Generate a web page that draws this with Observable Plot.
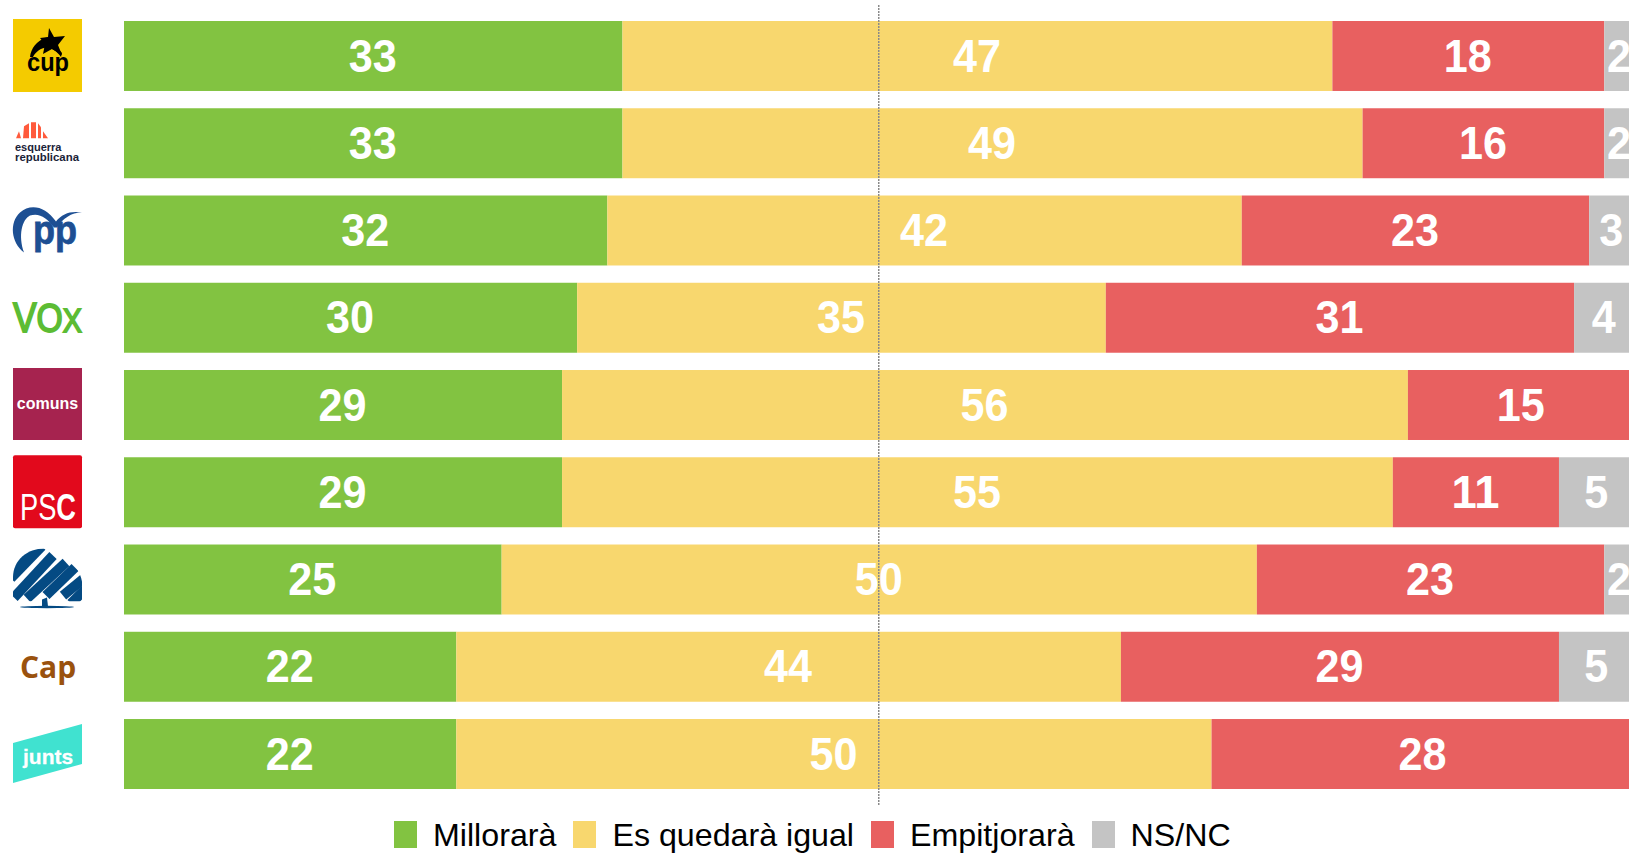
<!DOCTYPE html>
<html>
<head>
<meta charset="utf-8">
<script src="https://cdn.jsdelivr.net/npm/d3@7"></script>
<script src="https://cdn.jsdelivr.net/npm/@observablehq/plot@0.6"></script>
<style>
html,body{margin:0;padding:0;background:#fff;overflow:hidden;}
#chart svg{display:block;max-width:none;}
#legend{display:flex;align-items:flex-start;height:41px;padding-left:394px;padding-top:9px;box-sizing:border-box;font-family:"Liberation Sans",Arial,sans-serif;font-size:32.2px;line-height:28px;color:#000;gap:17px;white-space:nowrap;}
#legend .item{display:flex;align-items:flex-start;gap:16px;}
#legend .sw{display:block;width:23px;height:27px;}
</style>
</head>
<body>
<div id="chart"></div>
<div id="legend"></div>
<script>
const parties = ["CUP","ERC","PP","Vox","Comuns","PSC","Aliança","Cap","Junts"];
const responses = ["Millorarà","Es quedarà igual","Empitjorarà","NS/NC"];
const colors = ["#82c341","#f8d76e","#e86060","#c4c4c4"];
const millorara   = [33,33,32,30,29,29,25,22,22];
const igual       = [47,49,42,35,56,55,50,44,50];
const empitjorara = [18,16,23,31,15,11,23,29,28];
const nsnc        = [ 2, 2, 3, 4, 0, 5, 2, 5, 0];
const guide = [50];

const series = [millorara,igual,empitjorara,nsnc];
const tidy = parties.flatMap((party,i)=>responses.map((response,j)=>({party,response,value:series[j][i]}))).filter(d=>d.value>0);

const NS="http://www.w3.org/2000/svg";
const F="Liberation Sans, Arial, sans-serif";
function el(parent,tag,attrs,txt){const e=document.createElementNS(NS,tag);for(const k in attrs)e.setAttribute(k,attrs[k]);if(txt!=null)e.textContent=txt;parent.appendChild(e);return e;}
function txt(g,s,a){return el(g,"text",Object.assign({"font-family":F,"text-anchor":"start"},a),s);}

const drawLogo = {
  CUP(g){
    el(g,"rect",{x:0,y:-37,width:69,height:73,fill:"#f4cb00"});
    el(g,"path",{d:"M17,1 C18,-8 24,-15 32,-18 L37,-19 L43,-10 L49,-3 L48,1 C43,-6 37,-9 31,-8 C26,-7 22,-3 20,1 Z",fill:"#000"});
    el(g,"path",{d:"M36,-28 L41,-19 L52,-20 L45,-11 L49,-1 L39,-7 L30,-2 L32,-12 L27,-18 L35,-19 Z",fill:"#000"});
    txt(g,"cup",{x:14,y:15,"font-size":26,"font-weight":"bold",fill:"#000",textLength:42,lengthAdjust:"spacingAndGlyphs"});
  },
  ERC(g){
    [[3,-5,6,-12,8,-5],[10,-5,11,-17,16,-20,16,-5],[18,-5,18,-21,23,-21,23,-5],[25,-5,25,-20,28,-16,28,-5],[30,-5,30,-12,35,-5]].forEach(p=>{
      const pts=[];for(let i=0;i<p.length;i+=2)pts.push(p[i]+","+p[i+1]);
      el(g,"polygon",{points:pts.join(" "),fill:"#ff5a3c"});
    });
    txt(g,"esquerra",{x:2,y:7.5,"font-size":11,"font-weight":"bold",fill:"#1a2238"});
    txt(g,"republicana",{x:2,y:18,"font-size":11,"font-weight":"bold",fill:"#1a2238",textLength:64,lengthAdjust:"spacingAndGlyphs"});
  },
  PP(g){
    el(g,"path",{d:"M11,22 C-2,12 -4,-8 7,-18 C17,-27 32,-25 43,-9 C49,-17 58,-20 69,-18 C58,-18 50,-12 44,-3 L41,-3 C34,-13 26,-18 17,-15 C9,-11 5,5 11,22 Z",fill:"#1d4f93"});
    txt(g,"pp",{x:20,y:14,"font-size":40,"font-weight":"bold",fill:"#1d4f93",stroke:"#1d4f93","stroke-width":0.8,textLength:44,lengthAdjust:"spacingAndGlyphs"});
  },
  Vox(g){
    const t=txt(g,"",{x:0,y:14,fill:"#5cbc34",stroke:"#5cbc34","stroke-width":1.8,textLength:69,lengthAdjust:"spacingAndGlyphs"});
    el(t,"tspan",{"font-size":42},"V");
    el(t,"tspan",{"font-size":40},"O");
    el(t,"tspan",{"font-size":34},"X");
  },
  Comuns(g){
    el(g,"rect",{x:0,y:-37,width:69,height:72,fill:"#a6234f"});
    txt(g,"comuns",{x:34.5,y:4,"font-size":16,"font-weight":"bold",fill:"#fff","text-anchor":"middle"});
  },
  PSC(g){
    el(g,"rect",{x:0,y:-37,width:69,height:73,rx:2,fill:"#e2091c"});
    const t=txt(g,"",{x:7,y:28,"font-size":36,fill:"#fff",textLength:56,lengthAdjust:"spacingAndGlyphs"});
    el(t,"tspan",{},"PS");
    el(t,"tspan",{"font-weight":"bold"},"C");
  },
  "Aliança"(g){
    const c="#044a83";
    const cl=el(g,"clipPath",{id:"dome"});
    el(cl,"path",{d:"M0,-2 C0,-20 15,-31 31,-31 C50,-31 66,-14 69,2 L69,22 L0,22 Z"});
    const s=el(g,"g",{"clip-path":"url(#dome)",stroke:c,fill:"none"});
    [[-4,-3,27,-35,15],[1,18,40,-24,10],[14,19,53,-17,10],[33,16,62,-12,10],[50,16,72,-2,10],[58,24,72,10,10]].forEach(([x1,y1,x2,y2,w])=>el(s,"line",{x1,y1,x2,y2,"stroke-width":w}));
    el(g,"polygon",{points:"29,20 34,18 35,27 29,27",fill:c});
    el(g,"ellipse",{cx:34,cy:27.5,rx:27,ry:1.2,fill:c});
  },
  Cap(g){
    txt(g,"Cap",{x:7,y:11,"font-size":30,"font-weight":"bold","font-family":"Open Sans, sans-serif",fill:"#9a520e"});
  },
  Junts(g){
    el(g,"polygon",{points:"0,-11 69,-30 69,10 0,29",fill:"#40e2d0"});
    txt(g,"junts",{x:10,y:10,"font-size":21,"font-weight":"bold",fill:"#fff",stroke:"#fff","stroke-width":0.3});
  }
};

const logos = (index,scales)=>{
  const y=scales.y, bw=y.bandwidth?y.bandwidth():70;
  const root=document.createElementNS(NS,"g");
  parties.forEach(p=>{
    const g=el(root,"g",{transform:`translate(13,${y(p)+bw/2})`});
    drawLogo[p](g);
  });
  return root;
};

const chart = Plot.plot({
  width:1629, height:812,
  marginTop:5, marginBottom:7, marginLeft:0, marginRight:0,
  style:{fontFamily:F,background:"#fff",overflow:"hidden"},
  x:{domain:[0,100],range:[124,1634.5],axis:null},
  y:{domain:parties,range:[21,789],paddingInner:0.198,paddingOuter:0,round:false,axis:null},
  color:{domain:responses,range:colors},
  marks:[
    Plot.barX(tidy,Plot.stackX({x:"value",y:"party",fill:"response",order:null})),
    Plot.text(tidy,Plot.stackX({x:"value",y:"party",z:"response",order:null,text:"value",fill:"#fff",fontSize:47,fontWeight:"bold",dx:-1,dy:0,className:"vlabel"})),
    Plot.ruleX(guide,{stroke:"#8a8a8a",strokeWidth:1.5,strokeDasharray:"2,1",dx:-1}),
    logos
  ]
});
d3.select(chart).selectAll(".vlabel text").each(function(){
  const n=this.textContent.length;
  this.setAttribute("textLength",n*24);
  this.setAttribute("lengthAdjust","spacingAndGlyphs");
});
document.getElementById("chart").appendChild(chart);

const lg=d3.select("#legend");
responses.forEach((r,i)=>{
  const it=lg.append("div").attr("class","item");
  it.append("span").attr("class","sw").style("background",colors[i]);
  it.append("span").text(r);
});
</script>
</body>
</html>
